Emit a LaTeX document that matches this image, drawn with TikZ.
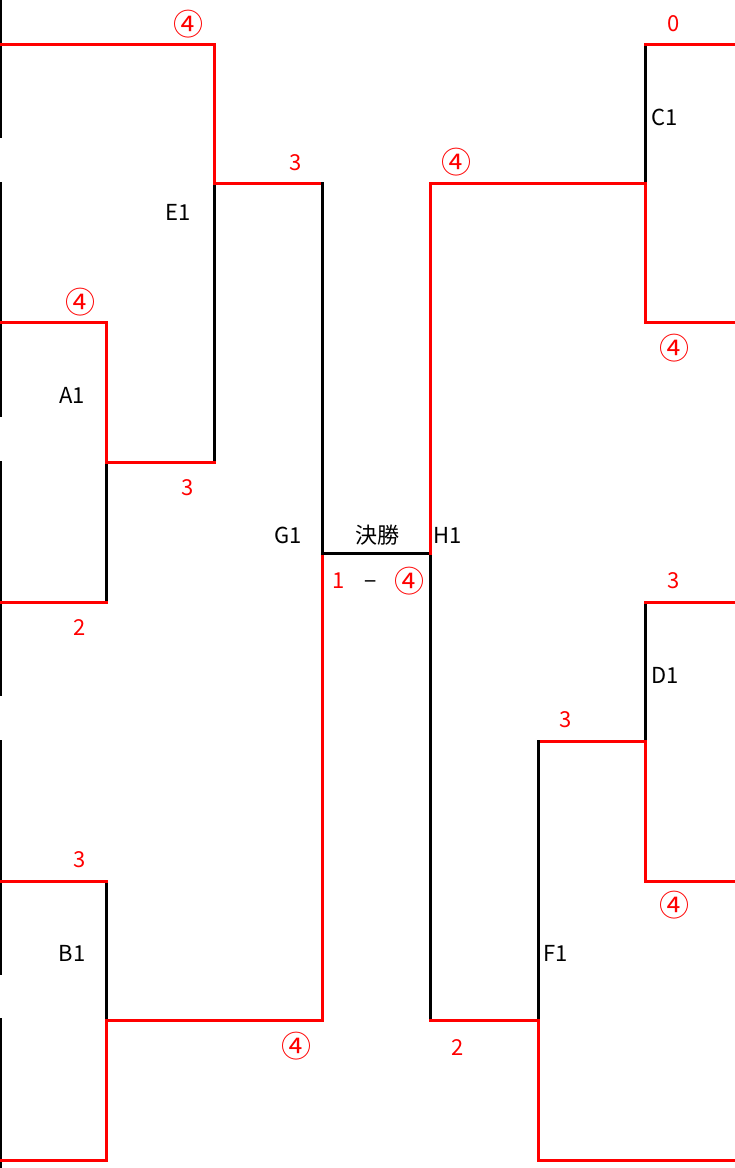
\documentclass[tikz,border=0pt]{standalone}
\usepackage{fontspec}
\setmainfont{Noto Sans CJK JP}
\begin{document}
\begin{tikzpicture}[x=1pt,y=-1pt, line join=miter, line cap=rect,
	win/.style={red,line width=3pt},
	lose/.style={black,line width=3pt},
	rim/.style={black,line width=3pt,line cap=butt},
	team/.style={inner sep=0pt,font=\fontsize{22}{24}\selectfont},
	score/.style={inner sep=0pt,text=red,font=\fontsize{22}{24}\selectfont},
	circ/.style={score,font=\fontsize{30}{32}\selectfont}]
	\useasboundingbox (0,0) rectangle (735,1168);
	\coordinate (edgeL) at (0,0); \coordinate (edgeR) at (735,0);
	% 左ブロック
	\coordinate (E1t) at (214,44); \coordinate (E1m) at (214,183); \coordinate (E1b) at (214,462);
	\coordinate (A1t) at (106,322); \coordinate (A1m) at (106,462); \coordinate (A1b) at (106,602);
	\coordinate (B1t) at (106,881); \coordinate (B1m) at (106,1020); \coordinate (B1b) at (106,1160);
	\coordinate (G1t) at (322,183); \coordinate (G1m) at (322,553); \coordinate (G1b) at (322,1020);
	% 右ブロック
	\coordinate (H1t) at (430,183); \coordinate (H1m) at (430,553); \coordinate (H1b) at (430,1020);
	\coordinate (C1t) at (645,44); \coordinate (C1m) at (645,183); \coordinate (C1b) at (645,322);
	\coordinate (D1t) at (645,602); \coordinate (D1m) at (645,741); \coordinate (D1b) at (645,881);
	\coordinate (F1t) at (538,741); \coordinate (F1m) at (538,1020); \coordinate (F1b) at (538,1160);
	%\draw[gray!30] (0,0) grid[step=50] (735,1168);
	\foreach \ya/\yb in {0/138,182/417,461/696,740/975,1018/1168}
		\draw[rim] (0,\ya) -- (0,\yb);
	% E1, A1, B1, G1
	\draw[lose] (E1m) -- (E1b);
	\draw[win] (edgeL |- E1t) -- (E1t) -- (E1m) -- (G1t);
	\draw[lose] (A1m) -- (A1b);
	\draw[win] (edgeL |- A1t) -- (A1t) -- (A1m) -- (E1b);
	\draw[win] (edgeL |- A1b) -- (A1b);
	\draw[lose] (B1t) -- (B1m);
	\draw[win] (edgeL |- B1t) -- (B1t);
	\draw[win] (edgeL |- B1b) -- (B1b) -- (B1m) -- (G1b);
	\draw[win] (G1m) -- (G1b);
	\draw[lose] (G1t) -- (G1m) -- (H1m) -- (H1b);
	% H1, C1, D1, F1
	\draw[win] (C1m) -- (H1t) -- (H1m);
	\draw[lose] (C1t) -- (C1m);
	\draw[win] (edgeR |- C1t) -- (C1t);
	\draw[win] (edgeR |- C1b) -- (C1b) -- (C1m);
	\draw[lose] (D1t) -- (D1m);
	\draw[win] (edgeR |- D1t) -- (D1t);
	\draw[win] (edgeR |- D1b) -- (D1b) -- (D1m) -- (F1t);
	\draw[lose] (F1t) -- (F1m);
	\draw[win] (edgeR |- F1b) -- (F1b) -- (F1m) -- (H1b);
	% 組み合わせ
	\node[team] (lblE1) at (178,212) {E1};
	\node[team] (lblA1) at (72,395) {A1};
	\node[team] (lblB1) at (72,953) {B1};
	\node[team] (lblG1) at (288,535) {G1};
	\node[team] (lblFin) at (377,535) {決勝};
	\node[team] (lblH1) at (448,535) {H1};
	\node[team] (lblC1) at (665,117) {C1};
	\node[team] (lblD1) at (665,675) {D1};
	\node[team] (lblF1) at (556,953) {F1};
	% スコア
	\node[circ] (scE1t) at (188,24) {④};
	\node[score] (scG1t) at (296,163) {3};
	\node[circ] (scA1t) at (80,302) {④};
	\node[score] (scE1b) at (188,488) {3};
	\node[score] (scA1b) at (80,628) {2};
	\node[score] (scB1t) at (80,860) {3};
	\node[circ] (scG1b) at (296,1046) {④};
	\node[score] (scFinL) at (339,581) {1};
	\node[score,text=black] (scFinD) at (371,585) {−};
	\node[circ] (scFinR) at (409,581) {④};
	\node[circ] (scH1t) at (456,162) {④};
	\node[score] (scC1t) at (674,24) {0};
	\node[circ] (scC1b) at (674,348) {④};
	\node[score] (scD1t) at (674,581) {3};
	\node[circ] (scD1b) at (674,905) {④};
	\node[score] (scF1t) at (566,720) {3};
	\node[score] (scH1b) at (458,1047) {2};
\end{tikzpicture}
\end{document}
